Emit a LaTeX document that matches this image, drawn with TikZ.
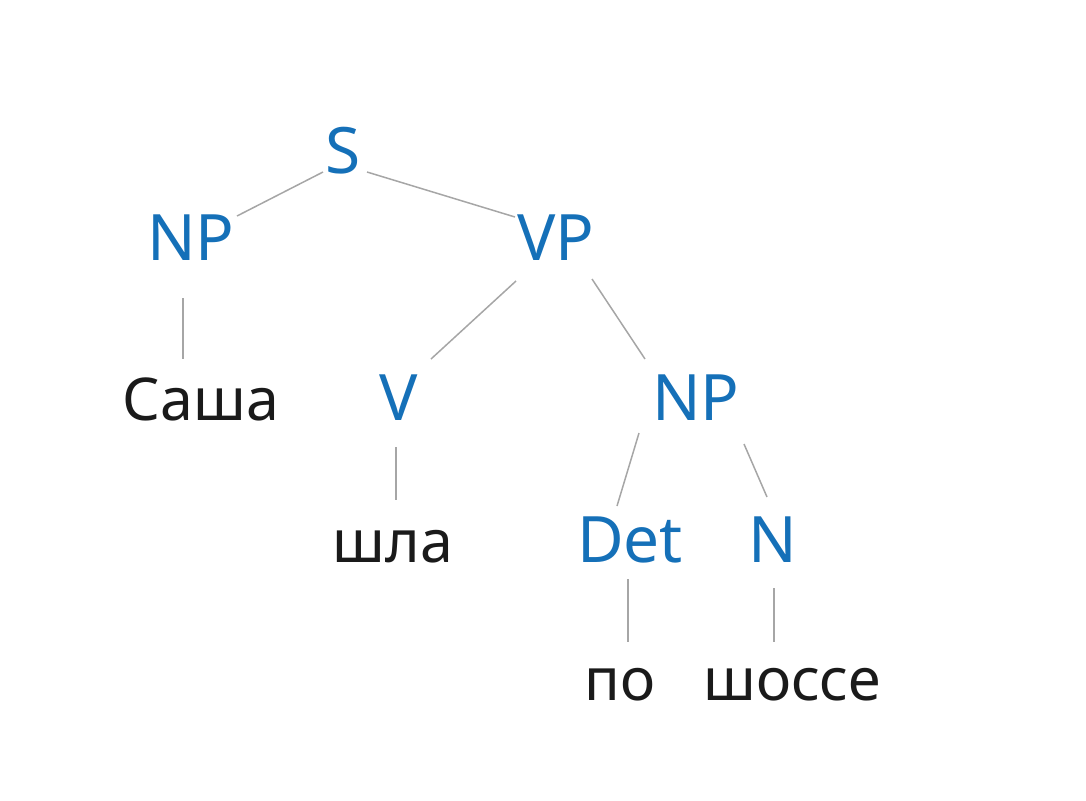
\documentclass[tikz,border=0pt]{standalone}
\usepackage{fontspec}
\setmainfont{Noto Sans}
\usepackage{tikz}
\definecolor{catblue}{HTML}{1570B8}
\definecolor{wordblack}{HTML}{1A1A1A}
\definecolor{linegray}{HTML}{A6A6A6}
\tikzstyle{cat} = [inner sep=0pt, anchor=base, text=catblue, font=\fontsize{32}{38}\selectfont]
\tikzstyle{word} = [inner sep=0pt, anchor=base, text=wordblack, font=\fontsize{29.5}{35}\selectfont]
\tikzstyle{edge} = [draw=linegray, line width=0.75pt]

\begin{document}
\begin{tikzpicture}[x=0.5pt, y=-0.5pt]
\useasboundingbox (0,0) rectangle (1086,800);

% Nodes (placed at their baselines)
\node (s) [cat] at (343,173) {S};
\node (np1) [cat] at (191,260) {NP};
\node (vp) [cat] at (556,260) {VP};
\node (sasha) [word] at (201,420) {Саша};
\node (v) [cat] at (399,420) {V};
\node (np2) [cat] at (696,420) {NP};
\node (shla) [word] at (393,562) {шла};
\node (det) [cat] at (630,562) {Det};
\node (n) [cat] at (773,562) {N};
\node (po) [word] at (620,700) {по};
\node (shosse) [word] at (792,700) {шоссе};

% Lines
\draw [edge] ([shift={(-20,-1)}]s.base) -- ([shift={(46,-44)}]np1.base);
\draw [edge] ([shift={(24,-1)}]s.base) -- ([shift={(-41,-43)}]vp.base);
\draw [edge] ([shift={(-8,38)}]np1.base) -- ([shift={(-18,-61)}]sasha.base);
\draw [edge] ([shift={(-40,21)}]vp.base) -- ([shift={(32,-61)}]v.base);
\draw [edge] ([shift={(36,19)}]vp.base) -- ([shift={(-51,-61)}]np2.base);
\draw [edge] ([shift={(-3,27)}]v.base) -- ([shift={(3,-62)}]shla.base);
\draw [edge] ([shift={(-57,13)}]np2.base) -- ([shift={(-13,-56)}]det.base);
\draw [edge] ([shift={(48,24)}]np2.base) -- ([shift={(-6,-65)}]n.base);
\draw [edge] ([shift={(-2,17)}]det.base) -- ([shift={(8,-58)}]po.base);
\draw [edge] ([shift={(1,26)}]n.base) -- ([shift={(-18,-58)}]shosse.base);

\end{tikzpicture}
\end{document}
